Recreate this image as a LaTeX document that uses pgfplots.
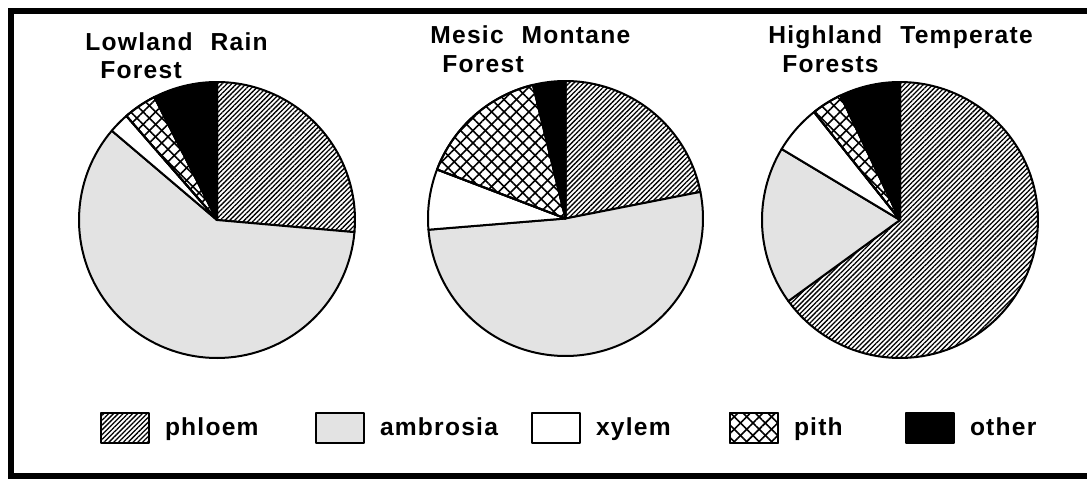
\documentclass[border=0pt]{standalone}
\usepackage{fontspec}
\setmainfont{Liberation Sans}
\newfontfamily\lab{Liberation Sans}[LetterSpace=5]
\usepackage{pgfplots}
\pgfplotsset{compat=1.18}
\usetikzlibrary{patterns.meta}

% one slice: centre x, centre y, radius, end angle, start angle, style
\newcommand\slice[6]{%
  \edef\tmp{\noexpand\addplot[#6, domain=#4:#5, samples=90]
    ({#1+#3*cos(x)},{#2+#3*sin(x)}) -- (axis cs:#1,#2) -- cycle;}%
  \tmp}
% one pie: cx, cy, r, extra options, phloem, ambrosia, xylem, pith, other (percent)
\newcommand\pie[9]{%
  \pgfmathsetmacro\aA{90}%
  \pgfmathsetmacro\aB{\aA-3.6*#5}%
  \pgfmathsetmacro\aC{\aB-3.6*#6}%
  \pgfmathsetmacro\aD{\aC-3.6*#7}%
  \pgfmathsetmacro\aE{\aD-3.6*#8}%
  \pgfmathsetmacro\aF{\aE-3.6*#9}%
  \slice{#1}{#2}{#3}{\aB}{\aA}{phl#4}%
  \slice{#1}{#2}{#3}{\aC}{\aB}{amb#4}%
  \slice{#1}{#2}{#3}{\aD}{\aC}{xyl#4}%
  \slice{#1}{#2}{#3}{\aE}{\aD}{pit#4}%
  \slice{#1}{#2}{#3}{\aF}{\aE}{oth#4}%
}

\pgfplotsset{
  wedge/.style={draw=black, line width=1pt, line join=round},
  phl/.style={wedge, pattern={Lines[angle=45,distance=1.7pt,line width=0.65pt]}},
  amb/.style={wedge, fill=black!11},
  xyl/.style={wedge, fill=white},
  pit/.style={wedge, fill=white, pattern={Lines[angle=45,distance=4.4pt,line width=0.8pt]},
     postaction={pattern={Lines[angle=-45,distance=4.4pt,line width=0.8pt]}}},
  oth/.style={wedge, fill=black},
}

\begin{document}
\begin{tikzpicture}
\begin{axis}[
  scale only axis, width=543.5pt, height=239.5pt,
  xmin=0, xmax=1087, ymin=0, ymax=479,
  axis lines=none, clip=false,
  legend columns=5,
  legend cell align=left,
  legend image code/.code={\draw[line width=1pt,#1] (0pt,-7.5pt) rectangle (24pt,7.5pt);},
  legend style={at={(axis cs:100,51)}, anchor=west, draw=none, fill=none,
    inner sep=0pt, outer sep=0pt, font=\lab\fontsize{12.3}{14}\bfseries\selectfont,
    nodes={inner sep=0pt}, /tikz/every even column/.style={column sep=0pt}},
]
% Lowland Rain Forest
\pie{217}{259}{138}{}{26.4}{59.8}{2.4}{3.9}{7.5}
% Mesic Montane Forest
\pie{565.5}{260.5}{137.5}{,forget plot}{21.9}{51.8}{7.1}{15.4}{3.8}
% Highland Temperate Forests
\pie{900}{259}{138}{,forget plot}{65.0}{18.6}{5.7}{3.6}{7.1}

\legend{\hspace{7.5pt}\makebox[75pt][l]{phloem},
        \hspace{7.5pt}\makebox[75.5pt][l]{ambrosia},
        \hspace{7.5pt}\makebox[66.5pt][l]{xylem},
        \hspace{7.5pt}\makebox[55.5pt][l]{pith},
        \hspace{7.5pt}other}

\begin{scope}[every node/.style={anchor=base west, inner sep=0pt, font=\lab\fontsize{12.3}{14}\bfseries\selectfont}]
\node at (axis cs:85,429) {Lowland\hspace{5pt} Rain};
\node at (axis cs:100,401) {Forest};
\node at (axis cs:430,436) {Mesic\hspace{5pt} Montane};
\node at (axis cs:442,407) {Forest};
\node at (axis cs:768,436) {Highland\hspace{5pt} Temperate};
\node at (axis cs:782,407) {Forests};
\end{scope}

\draw[line width=3pt, line join=miter, line cap=butt]
  (axis cs:1087,468.5) -- (axis cs:10.5,468.5) -- (axis cs:10.5,3) -- (axis cs:1087,3);
\end{axis}
\pgfresetboundingbox
\path (current axis.south west) rectangle (current axis.north east);
\end{tikzpicture}
\end{document}
